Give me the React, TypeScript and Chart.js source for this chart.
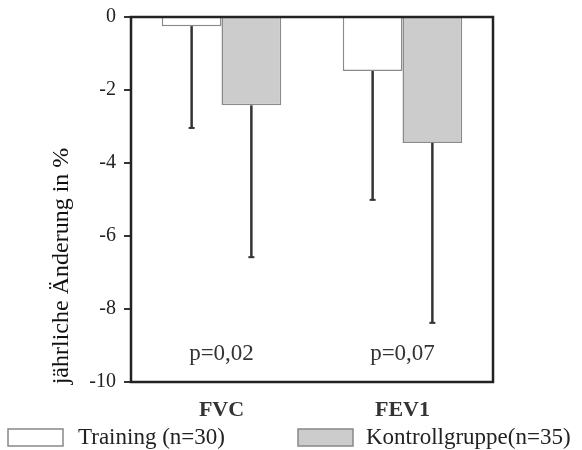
import React, { useEffect, useRef } from "react";
import { Chart, registerables } from "chart.js";

Chart.register(...registerables);

const categories = ["FVC", "FEV1"];
const seriesNames = ["Training (n=30)", "Kontrollgruppe(n=35)"];
const trainingMeans = [-0.25, -1.48];
const controlMeans = [-2.42, -3.45];
const trainingLower = [-3.04, -5.01];
const controlLower = [-6.58, -8.38];
const pValues = ["p=0,02", "p=0,07"];
const yTitle = "jährliche Änderung in %";

const SERIF = "'Liberation Serif', 'DejaVu Serif', serif";

const decorPlugin = {
  id: "decor",
  afterDatasetsDraw(chart: any) {
    const { ctx, chartArea, scales } = chart;
    const y = scales.y;
    const lowers = [trainingLower, controlLower];
    ctx.save();
    [0, 1].forEach((di) => {
      const meta = chart.getDatasetMeta(di);
      meta.data.forEach((bar: any, i: number) => {
        const x = bar.x;
        const y0 = y.getPixelForValue(chart.data.datasets[di].data[i]);
        const y1 = y.getPixelForValue(lowers[di][i]);
        ctx.strokeStyle = "#333";
        ctx.lineWidth = 2.5;
        ctx.beginPath();
        ctx.moveTo(x, y0);
        ctx.lineTo(x, y1);
        ctx.stroke();
        ctx.lineWidth = 2;
        ctx.beginPath();
        ctx.moveTo(x - 3, y1);
        ctx.lineTo(x + 3, y1);
        ctx.stroke();
      });
    });
    ctx.strokeStyle = "#222";
    ctx.lineWidth = 2.5;
    ctx.strokeRect(chartArea.left, chartArea.top, chartArea.right - chartArea.left, chartArea.bottom - chartArea.top);
    ctx.fillStyle = "#333";
    ctx.font = `23px ${SERIF}`;
    ctx.textAlign = "center";
    ctx.textBaseline = "middle";
    const xs = scales.x;
    pValues.forEach((p, i) => {
      ctx.fillText(p, xs.getPixelForValue(i), chartArea.bottom - 28);
    });
    ctx.save();
    ctx.translate(62, 266);
    ctx.rotate(-Math.PI / 2);
    ctx.font = `24px ${SERIF}`;
    ctx.fillStyle = "#111";
    ctx.fillText(yTitle, 0, 0);
    ctx.restore();
    const ds = chart.data.datasets;
    const items = [
      { bx: 8, tx: 78 },
      { bx: 298, tx: 366 },
    ];
    items.forEach((it, i) => {
      ctx.fillStyle = ds[i].backgroundColor;
      ctx.fillRect(it.bx, 429, 55, 17);
      ctx.strokeStyle = "#888";
      ctx.lineWidth = 1.5;
      ctx.strokeRect(it.bx, 429, 55, 17);
      ctx.fillStyle = "#222";
      ctx.font = `23px ${SERIF}`;
      ctx.textAlign = "left";
      ctx.textBaseline = "middle";
      ctx.fillText(seriesNames[i], it.tx, 438);
    });
    ctx.restore();
  },
};

export default function App() {
  const ref = useRef<HTMLCanvasElement>(null);
  useEffect(() => {
    const chart = new Chart(ref.current!, {
      type: "bar",
      data: {
        labels: categories,
        datasets: [
          {
            label: seriesNames[0],
            data: trainingMeans,
            backgroundColor: "#ffffff",
            borderColor: "#8a8a8a",
            borderWidth: 1.5,
            categoryPercentage: 0.66,
            barPercentage: 1,
          },
          {
            label: seriesNames[1],
            data: controlMeans,
            backgroundColor: "#cccccc",
            borderColor: "#8a8a8a",
            borderWidth: 1.5,
            categoryPercentage: 0.66,
            barPercentage: 1,
          },
        ],
      },
      options: {
        responsive: false,
        animation: false,
        layout: { padding: { left: 0, right: 89, top: 5, bottom: 0 } },
        plugins: { legend: { display: false }, tooltip: { enabled: false } },
        scales: {
          x: {
            grid: { display: false },
            border: { display: false },
            ticks: { font: { family: SERIF, size: 22, weight: "bold" }, color: "#333", padding: 7 },
            afterFit: (s: any) => { s.height = 68; },
          },
          y: {
            min: -10,
            max: 0,
            grid: { display: true, drawOnChartArea: false, drawTicks: true, tickLength: 7, color: "#333", lineWidth: 2 },
            border: { display: false },
            ticks: { stepSize: 2, font: { family: SERIF, size: 20 }, color: "#222", padding: 8 },
            afterFit: (s: any) => { s.width = 131; s.paddingTop = 17; },
          },
        },
      },
      plugins: [decorPlugin],
    });
    return () => chart.destroy();
  }, []);
  return (
    <div style={{ position: "fixed", left: 0, top: 0, width: 582, height: 450, background: "#fff" }}>
      <canvas ref={ref} width={582} height={450} />
    </div>
  );
}
